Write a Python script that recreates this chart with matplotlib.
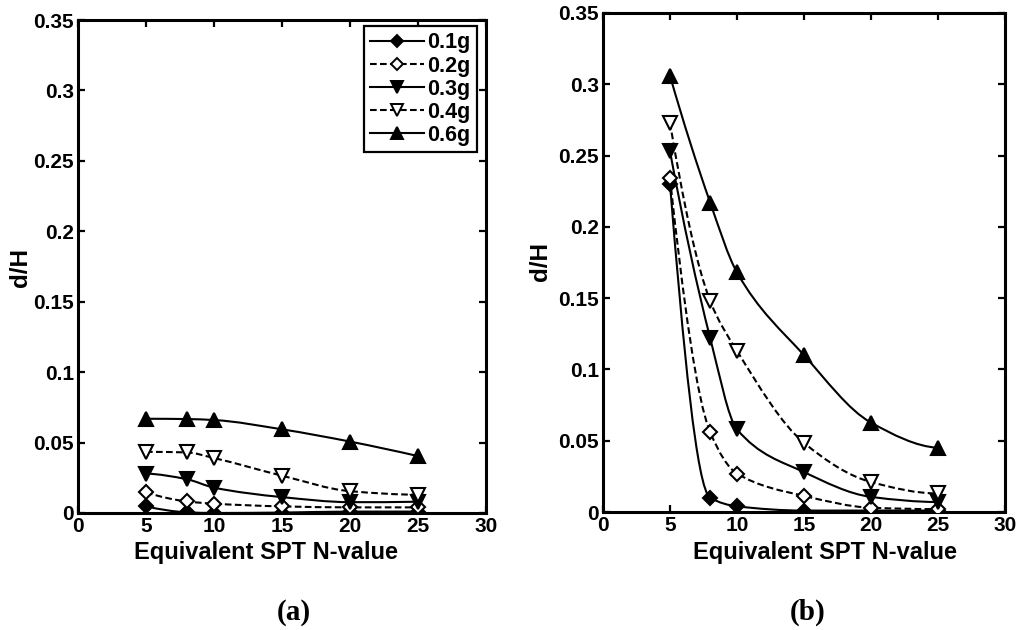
import numpy as np
import matplotlib
matplotlib.use("Agg")
import matplotlib.pyplot as plt
from matplotlib.path import Path
from matplotlib.patches import PathPatch
from matplotlib.lines import Line2D

# Equivalent SPT N-values at which d/H was evaluated
n_values = [5, 8, 10, 15, 20, 25]

series_labels = ["0.1g", "0.2g", "0.3g", "0.4g", "0.6g"]

# Panel (a): d/H
a_01g = [0.0047, 0.0005, 0.0000, 0.0003, 0.0010, 0.0010]
a_02g = [0.0146, 0.0082, 0.0066, 0.0047, 0.0040, 0.0040]
a_03g = [0.0280, 0.0240, 0.0180, 0.0113, 0.0077, 0.0080]
a_04g = [0.0434, 0.0430, 0.0390, 0.0265, 0.0155, 0.0130]
a_06g = [0.0669, 0.0667, 0.0660, 0.0594, 0.0507, 0.0404]

# Panel (b): d/H
b_01g = [0.230, 0.010, 0.004, 0.001, 0.001, 0.001]
b_02g = [0.234, 0.056, 0.027, 0.0113, 0.003, 0.002]
b_03g = [0.253, 0.122, 0.058, 0.028, 0.0106, 0.007]
b_04g = [0.273, 0.148, 0.113, 0.0485, 0.021, 0.013]
b_06g = [0.306, 0.217, 0.168, 0.110, 0.0627, 0.045]

x_ticks = [0, 5, 10, 15, 20, 25, 30]
y_ticks = [0, 0.05, 0.1, 0.15, 0.2, 0.25, 0.3, 0.35]
y_tick_labels = ["0", "0.05", "0.1", "0.15", "0.2", "0.25", "0.3", "0.35"]

plt.rcParams["font.family"] = ["Liberation Sans", "DejaVu Sans"]
plt.rcParams["font.weight"] = "bold"

DASH = (0, (3.2, 1.6))
styles = [
    dict(marker="D", mfc="black", ms=7.5, ls="-"),
    dict(marker="D", mfc="white", ms=7.5, ls=DASH),
    dict(marker="v", mfc="black", ms=9.5, ls="-"),
    dict(marker="v", mfc="white", ms=9.5, ls=DASH),
    dict(marker="^", mfc="black", ms=9.5, ls="-"),
]


def pchip_slopes(x, y):
    x = np.asarray(x, float)
    y = np.asarray(y, float)
    h = np.diff(x)
    d = np.diff(y) / h
    n = len(x)
    m = np.zeros(n)
    for k in range(1, n - 1):
        if d[k - 1] * d[k] <= 0:
            m[k] = 0.0
        else:
            w1 = 2 * h[k] + h[k - 1]
            w2 = h[k] + 2 * h[k - 1]
            m[k] = (w1 + w2) / (w1 / d[k - 1] + w2 / d[k])

    def end(h0, h1, d0, d1):
        s = ((2 * h0 + h1) * d0 - h0 * d1) / (h0 + h1)
        if np.sign(s) != np.sign(d0):
            s = 0.0
        elif np.sign(d0) != np.sign(d1) and abs(s) > abs(3 * d0):
            s = 3 * d0
        return s

    m[0] = end(h[0], h[1], d[0], d[1])
    m[-1] = end(h[-1], h[-2], d[-1], d[-2])
    return m


def smooth_curve(ax, x, y, ls):
    m = pchip_slopes(x, y)
    verts = [(x[0], y[0])]
    codes = [Path.MOVETO]
    for k in range(len(x) - 1):
        h = x[k + 1] - x[k]
        verts += [(x[k] + h / 3, y[k] + m[k] * h / 3),
                  (x[k + 1] - h / 3, y[k + 1] - m[k + 1] * h / 3),
                  (x[k + 1], y[k + 1])]
        codes += [Path.CURVE4] * 3
    patch = PathPatch(Path(verts, codes), facecolor="none", edgecolor="black",
                      lw=1.5, linestyle=ls, capstyle="butt", zorder=2)
    ax.add_patch(patch)


def style_axes(ax):
    ax.set_xlim(0, 30)
    ax.set_ylim(0, 0.35)
    ax.set_xticks(x_ticks)
    ax.set_xticklabels([str(v) for v in x_ticks])
    ax.set_yticks(y_ticks)
    ax.set_yticklabels(y_tick_labels)
    for sp in ax.spines.values():
        sp.set_linewidth(2.2)
    ax.tick_params(direction="in", length=5, width=1.6, top=True, right=True,
                   labelsize=15, pad=3)
    for lab in ax.get_xticklabels() + ax.get_yticklabels():
        lab.set_fontweight("bold")


def draw_panel(ax, data):
    for vals, st in zip(data, styles):
        smooth_curve(ax, n_values, vals, st["ls"])
        ax.plot(n_values, vals, linestyle="none", marker=st["marker"],
                ms=st["ms"], mfc=st["mfc"], mec="black", mew=1.5, zorder=3)
    style_axes(ax)


fig = plt.figure(figsize=(10.18, 6.30), dpi=100)
ax_a = fig.add_axes([78 / 1018, 1 - 513 / 630, 408 / 1018, 493 / 630])
ax_b = fig.add_axes([603 / 1018, 1 - 512 / 630, 402 / 1018, 499 / 630])

draw_panel(ax_a, [a_01g, a_02g, a_03g, a_04g, a_06g])
draw_panel(ax_b, [b_01g, b_02g, b_03g, b_04g, b_06g])

handles = [Line2D([], [], color="black", lw=1.5, linestyle=st["ls"],
                  marker=st["marker"], ms=st["ms"] - 1, mfc=st["mfc"],
                  mec="black", mew=1.4)
           for st in styles]
leg = ax_a.legend(handles, series_labels, loc="upper right",
                  bbox_to_anchor=(0.978, 0.988), frameon=True, fancybox=False,
                  edgecolor="black", framealpha=1, handlelength=2.5,
                  handletextpad=0.15, labelspacing=0.1, borderpad=0.3,
                  borderaxespad=0, prop=dict(size=15.5, weight="bold"))
leg.get_frame().set_linewidth(1.6)

# axis titles
fig.text(266 / 1018, 1 - 553 / 630, "Equivalent SPT N-value", ha="center",
         va="center", fontsize=17, fontweight="bold")
fig.text(825 / 1018, 1 - 553 / 630, "Equivalent SPT N-value", ha="center",
         va="center", fontsize=17, fontweight="bold")
fig.text(21 / 1018, 1 - 267 / 630, "d/H", rotation=90, ha="center",
         va="center", fontsize=17.5, fontweight="bold")
fig.text(541 / 1018, 1 - 261 / 630, "d/H", rotation=90, ha="center",
         va="center", fontsize=17.5, fontweight="bold")

# panel tags
fig.text(294 / 1018, 1 - 612 / 630, "(a)", ha="center", va="center",
         fontsize=21, fontweight="bold", family=["Liberation Serif"])
fig.text(808 / 1018, 1 - 612 / 630, "(b)", ha="center", va="center",
         fontsize=21, fontweight="bold", family=["Liberation Serif"])

fig.savefig("out.png", dpi=100)
